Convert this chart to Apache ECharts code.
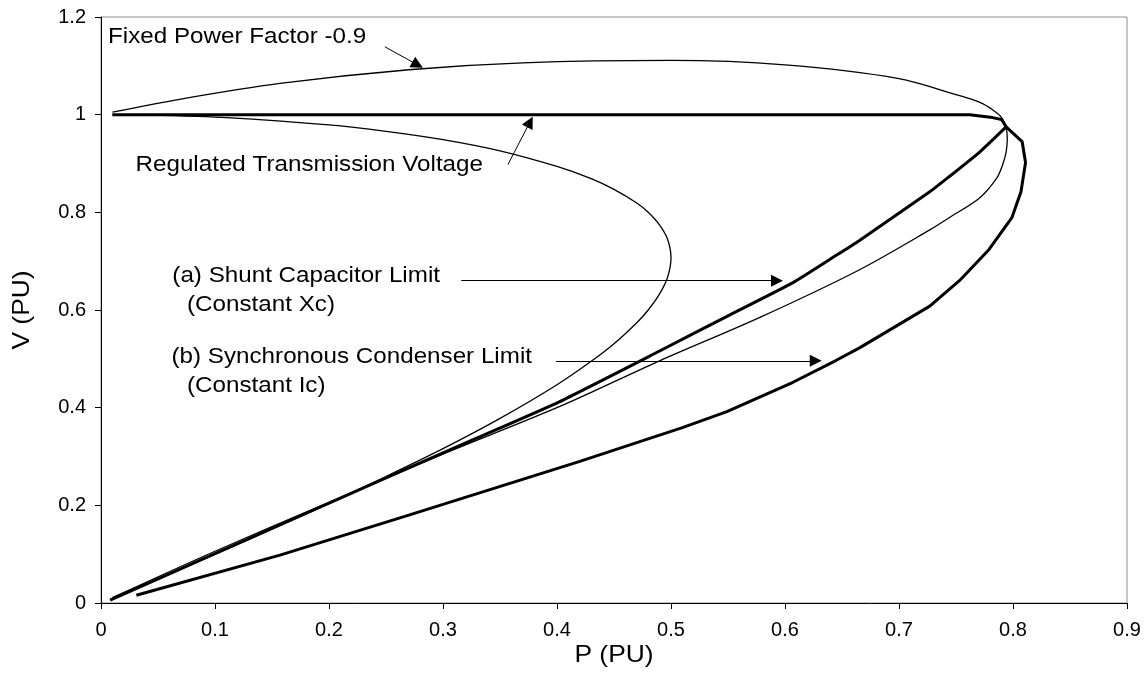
<!DOCTYPE html>
<html>
<head>
<meta charset="utf-8">
<script src="https://cdn.jsdelivr.net/npm/echarts@6/dist/echarts.min.js"></script>
<style>
  html, body { margin: 0; padding: 0; background: #fff; }
  #chart { width: 1147px; height: 690px; }
</style>
</head>
<body>
<div id="chart"></div>
<script>
// Axis ranges and tick steps
const xRange = [0, 0.9];
const yRange = [0, 1.2];
const xStep = 0.1;
const yStep = 0.2;

// Regulated transmission voltage (V held at 1 PU up to the nose)
const regP = [0.01, 0.2, 0.4, 0.6, 0.762, 0.782, 0.79, 0.794];
const regV = [1.0, 1.0, 1.0, 1.0, 1.0, 0.994, 0.99, 0.975];

// Unity power factor PV curve (upper branch, nose, lower branch)
const unityP = [0.01, 0.1, 0.2, 0.25, 0.3, 0.35, 0.4, 0.43, 0.45, 0.47, 0.48, 0.49, 0.497, 0.5,
                0.497, 0.49, 0.48, 0.47, 0.45, 0.43, 0.4, 0.35, 0.3, 0.25, 0.2, 0.15, 0.1, 0.05, 0.01];
const unityV = [1.0, 0.995, 0.979, 0.966, 0.949, 0.926, 0.894, 0.869, 0.847, 0.819, 0.8, 0.774, 0.745, 0.707,
                0.667, 0.633, 0.6, 0.574, 0.531, 0.495, 0.447, 0.378, 0.316, 0.259, 0.204, 0.152, 0.1, 0.05, 0.01];

// Fixed power factor -0.9 PV curve
const fpfP = [0.01, 0.07, 0.157, 0.27, 0.37, 0.5, 0.6, 0.7, 0.75, 0.771, 0.782, 0.79, 0.794, 0.795,
              0.794, 0.791, 0.786, 0.771, 0.744, 0.727, 0.665, 0.578, 0.49, 0.402, 0.3, 0.2, 0.1, 0.01];
const fpfV = [1.005, 1.032, 1.064, 1.092, 1.106, 1.111, 1.102, 1.074, 1.041, 1.025, 1.01, 0.994, 0.973, 0.95,
              0.924, 0.898, 0.871, 0.83, 0.789, 0.764, 0.682, 0.585, 0.496, 0.402, 0.305, 0.206, 0.106, 0.011];

// (a) Shunt capacitor limit (constant Xc)
const shuntP = [0.008, 0.1, 0.157, 0.25, 0.33, 0.402, 0.49, 0.55, 0.607, 0.645, 0.665, 0.727, 0.744, 0.771, 0.794];
const shuntV = [0.006, 0.101, 0.16, 0.256, 0.338, 0.412, 0.516, 0.588, 0.656, 0.712, 0.742, 0.842, 0.873, 0.924, 0.975];

// (b) Synchronous condenser limit (constant Ic)
const condP = [0.031, 0.157, 0.27, 0.42, 0.51, 0.549, 0.607, 0.645, 0.665, 0.727, 0.753, 0.779, 0.799, 0.807, 0.811, 0.808, 0.794];
const condV = [0.016, 0.098, 0.18, 0.29, 0.359, 0.392, 0.452, 0.497, 0.522, 0.608, 0.66, 0.724, 0.789, 0.842, 0.902, 0.945, 0.975];

// Callout arrows: [fromP, fromV, headP, headV]
const arrows = [
  [0.249, 1.139, 0.2777, 1.102],
  [0.357, 0.898, 0.3763, 0.985],
  [0.316, 0.660, 0.593, 0.660],
  [0.399, 0.496, 0.627, 0.496]
];

const font = '"Liberation Sans", Arial, sans-serif';
const pairs = (p, v) => p.map((x, i) => [x, v[i]]);

const thin = { color: '#000', width: 1.3 };
const thick = { color: '#000', width: 3 };

const chart = echarts.init(document.getElementById('chart'), null, { renderer: 'canvas' });

function note(text, x, y, align, size, rotation) {
  return {
    type: 'text', x: x, y: y, scaleX: 1.1, rotation: rotation || 0,
    style: { text: text, fill: '#000', fontSize: size || 22, fontFamily: font, align: align, verticalAlign: 'middle' }
  };
}

chart.setOption({
  animation: false,
  backgroundColor: '#fff',
  grid: { left: 101, right: 20, top: 17, bottom: 87, show: true, borderColor: '#8c8c8c', borderWidth: 1, backgroundColor: 'transparent' },
  xAxis: {
    type: 'value', min: xRange[0], max: xRange[1], interval: xStep,
    axisLine: { show: true, onZero: false, lineStyle: { color: '#000', width: 1 } },
    axisTick: { show: true, inside: false, length: 6, lineStyle: { color: '#000' } },
    axisLabel: { color: '#000', fontSize: 20, fontFamily: font, margin: 17 },
    splitLine: { show: false }
  },
  yAxis: {
    type: 'value', min: yRange[0], max: yRange[1], interval: yStep,
    axisLine: { show: true, onZero: false, lineStyle: { color: '#000', width: 1 } },
    axisTick: { show: true, inside: false, length: 6, lineStyle: { color: '#000' } },
    axisLabel: { color: '#000', fontSize: 20, fontFamily: font, margin: 15 },
    splitLine: { show: false }
  },
  series: [
    { name: 'Unity PF', type: 'line', data: pairs(unityP, unityV), showSymbol: false, smooth: 0.3, lineStyle: thin, z: 2 },
    { name: 'Fixed Power Factor -0.9', type: 'line', data: pairs(fpfP, fpfV), showSymbol: false, smooth: 0.3, lineStyle: thin, z: 2 },
    { name: 'Regulated Transmission Voltage', type: 'line', data: pairs(regP, regV), showSymbol: false, lineStyle: thick, z: 3 },
    { name: '(a) Shunt Capacitor Limit', type: 'line', data: pairs(shuntP, shuntV), showSymbol: false, smooth: 0.15, lineStyle: thick, z: 3 },
    { name: '(b) Synchronous Condenser Limit', type: 'line', data: pairs(condP, condV), showSymbol: false, lineStyle: thick, z: 3 },
    {
      name: 'callouts', type: 'lines', coordinateSystem: 'cartesian2d', silent: true, z: 4,
      symbol: ['none', 'triangle'], symbolSize: 12,
      lineStyle: { color: '#000', width: 1, opacity: 1, curveness: 0 },
      itemStyle: { color: '#000' },
      data: arrows.map(a => ({ coords: [[a[0], a[1]], [a[2], a[3]]] }))
    }
  ],
  graphic: [
    note('Fixed Power Factor -0.9', 108, 37, 'left'),
    note('Regulated Transmission Voltage', 483, 165, 'right'),
    note('(a) Shunt Capacitor Limit', 440, 276, 'right'),
    note('(Constant Xc)', 187, 305, 'left'),
    note('(b) Synchronous Condenser Limit', 532, 357, 'right'),
    note('(Constant Ic)', 187, 386, 'left'),
    note('P (PU)', 614, 655, 'center', 24),
    note('V (PU)', 22, 310, 'center', 24, Math.PI / 2)
  ]
});
</script>
</body>
</html>
